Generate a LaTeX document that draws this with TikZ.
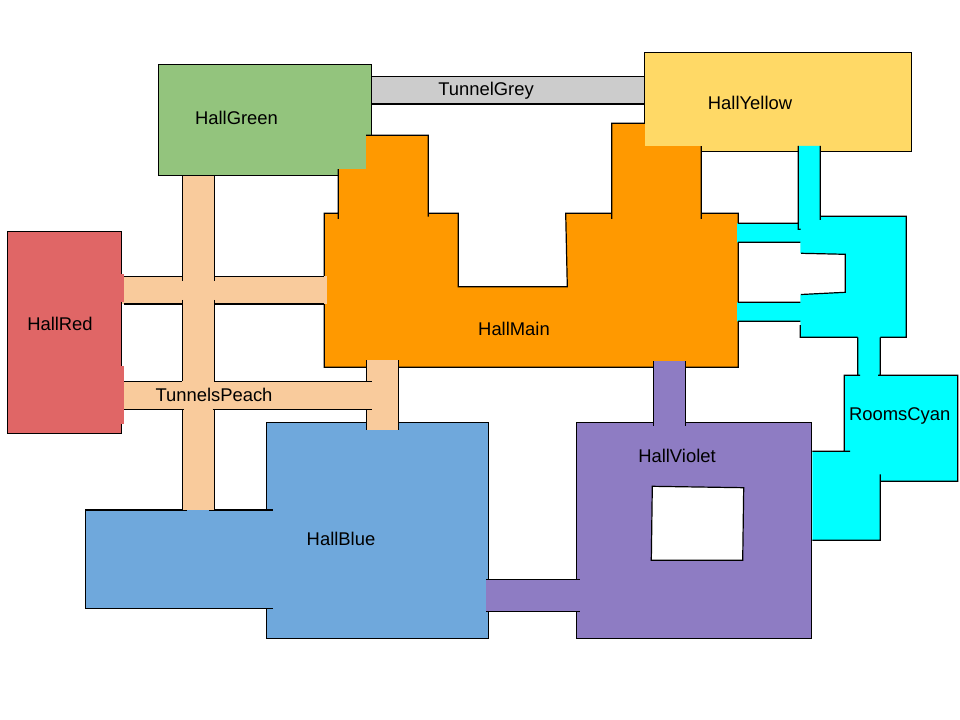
\documentclass[tikz,border=0pt]{standalone}
\usepackage{fontspec}
\setmainfont{Liberation Sans}
\definecolor{cgreen}{HTML}{93C47D}
\definecolor{cred}{HTML}{E06666}
\definecolor{corange}{HTML}{FF9900}
\definecolor{cyellow}{HTML}{FFD966}
\definecolor{cblue}{HTML}{6FA8DC}
\definecolor{cviolet}{HTML}{8E7CC3}
\definecolor{ccyan}{HTML}{00FFFF}
\definecolor{cpeach}{HTML}{F9CB9C}
\definecolor{cgrey}{HTML}{CCCCCC}
\tikzset{
  wall/.style={draw=black,line width=0.9pt,line join=miter},
  edgeline/.style={black,line width=0.9pt},
  label/.style={anchor=base,inner sep=0pt,outer sep=0pt,text=black,font=\fontsize{13.8}{16}\selectfont},
}
\begin{document}
\begin{tikzpicture}[x=0.75pt,y=-0.75pt]
\useasboundingbox (0,0) rectangle (960,720);
\fill[white] (0,0) rectangle (960,720);

% grey tunnel
\fill[cgrey] (371,76.3) rectangle (645,104);
\draw[edgeline] (371,76.3) -- (645,76.3) (371,104) -- (645,104);

% halls behind the main hall
\filldraw[fill=cgreen,wall] (158.3,64.3) rectangle (371.3,175.3);
\filldraw[fill=cyellow,wall] (644.3,52.3) rectangle (911.3,151.3);

% main hall
\fill[corange] (324.3,213.3) -- (338.3,213.3) -- (338.3,135.3) -- (428.3,135.3) -- (428.3,213.3)
  -- (458.3,213.3) -- (458.3,286.7) -- (567.3,286.7) -- (565.7,213.3) -- (611.7,213.3)
  -- (611.7,123.3) -- (701.3,123.3) -- (701.3,213.3) -- (738.3,213.3) -- (738.3,367.3) -- (324.3,367.3) -- cycle;
\draw[wall] (338.3,219) -- (338.3,168) (366,135.3) -- (428.3,135.3) -- (428.3,216.7)
  (611.7,219) -- (611.7,123.3) -- (645,123.3) (701.3,145) -- (701.3,219)
  (338.3,213.3) -- (324.3,213.3) -- (324.3,367.3) -- (738.3,367.3) -- (738.3,213.3) -- (701.3,213.3)
  (428.3,213.3) -- (458.3,213.3) -- (458.3,286.7) -- (567.3,286.7) -- (565.7,213.3) -- (611.7,213.3);
\fill[cgreen] (337,134.5) rectangle (366,168.7);
\fill[cyellow] (645.3,122.5) rectangle (701.9,145.7);

% blue hall
\fill[cblue] (85.3,510) rectangle (272.7,608.3);
\fill[cblue] (266.3,422.3) rectangle (488.3,638.3);
\draw[wall] (266.3,510) -- (266.3,422.3) -- (488.3,422.3) -- (488.3,638.3) -- (266.3,638.3) -- (266.3,608.3)
  (272.7,608.3) -- (85.3,608.3) -- (85.3,510) -- (187.3,510) (209.3,510) -- (272.7,510);

% violet hall
\filldraw[fill=cviolet,wall] (576.3,422.3) rectangle (811.7,638.3);
\filldraw[fill=white,wall] (652.3,486.3) -- (743.7,487.7) -- (742.7,560.3) -- (651.3,560.3) -- cycle;
\fill[cviolet] (653.3,361) rectangle (685.7,425);
\draw[edgeline] (653.3,361) -- (653.3,425.7) (685.7,361) -- (685.7,425.7);
\fill[cviolet] (486,579.3) rectangle (579.7,611.3);
\draw[edgeline] (486,579.3) -- (579.7,579.3) (486,611.3) -- (579.7,611.3);

% peach tunnels
\fill[cpeach] (182.3,175.8) rectangle (214.3,510);
\fill[cpeach] (121,276.3) rectangle (327,304);
\fill[cpeach] (121,381.3) rectangle (371.7,409.3);
\fill[cpeach] (366.3,360) rectangle (398.7,430);
\draw[edgeline] (182.3,175.3) -- (182.3,281) (214.3,175.3) -- (214.3,281)
  (182.3,300) -- (182.3,381.3) (214.3,300) -- (214.3,381.3)
  (184,409.3) -- (182.3,409.3) -- (182.3,510) (212.7,409.3) -- (214.3,409.3) -- (214.3,510)
  (124,276.3) -- (182.3,276.3) (214.3,276.3) -- (324.3,276.3)
  (124,304) -- (182.3,304) (214.3,304) -- (324.3,304)
  (124,381.3) -- (182.3,381.3) (214.3,381.3) -- (371.7,381.3)
  (124,409.3) -- (184,409.3) (212.7,409.3) -- (371.7,409.3)
  (366.3,360) -- (366.3,381.3) (366.3,409.3) -- (366.3,430)
  (398.7,360) -- (398.7,430);

% red hall
\filldraw[fill=cred,wall] (7.3,231.3) rectangle (121.3,433.3);
\fill[cred] (118,274) rectangle (124,302);
\fill[cred] (118,366) rectangle (124,424);

% cyan rooms
\fill[ccyan] (798.3,146) -- (820.3,146) -- (820.3,216.3) -- (906.3,216.3) -- (906.3,337.3)
  -- (880.3,337.3) -- (880.3,375.3) -- (957.7,375.3) -- (957.7,481.3) -- (880.3,481.3) -- (880.3,540.3)
  -- (812.3,540.3) -- (812.3,451.3) -- (844.3,451.3) -- (844.3,375.3) -- (857.7,375.3) -- (857.7,337.3)
  -- (800.3,337.3) -- (800.3,321.3) -- (737,321.3) -- (737,302.3) -- (800.3,302.3) -- (800.3,294.5)
  -- (845.3,292.3) -- (845.3,254.3) -- (800.3,253.3) -- (800.3,242.3) -- (737,242.3) -- (737,223.3)
  -- (798.3,223.3) -- cycle;
\draw[edgeline] (798.3,146) -- (798.3,229.3) -- (800.7,229.3)
  (820.3,146) -- (820.3,220) (820.3,216.3) -- (906.3,216.3) -- (906.3,337.3) -- (880.3,337.3)
  (857.7,337.3) -- (800.3,337.3) -- (800.3,325)
  (738,321.3) -- (800.3,321.3) (738,302.3) -- (800.3,302.3)
  (738,242.3) -- (800.3,242.3) (738,223.3) -- (798.3,223.3)
  (801,294.5) -- (845.3,292.3) -- (845.3,254.3) -- (801,253.3)
  (857.7,337.3) -- (857.7,375.3) (880.3,337.3) -- (880.3,375.3)
  (850,451.3) -- (812.3,451.3) (844.3,451.3) -- (844.3,375.3) -- (860,375.3)
  (878,375.3) -- (957.7,375.3) -- (957.7,481.3) -- (880.3,481.3)
  (880.3,474.3) -- (880.3,540.3) -- (812.3,540.3);

% labels
\node[label] (hallgreen) at (236.5,124.3) {HallGreen};
\node[label] (hallyellow) at (750,109.3) {HallYellow};
\node[label] (tunnelgrey) at (486,96) {TunnelGrey};
\node[label] (hallmain) at (514,335.7) {HallMain};
\node[label] (hallred) at (60,330.7) {HallRed};
\node[label] (tunnelspeach) at (214,401) {TunnelsPeach};
\node[label] (hallblue) at (341,545) {HallBlue};
\node[label] (hallviolet) at (677,462.3) {HallViolet};
\node[label] (roomscyan) at (899.7,420.7) {RoomsCyan};
\end{tikzpicture}
\end{document}
